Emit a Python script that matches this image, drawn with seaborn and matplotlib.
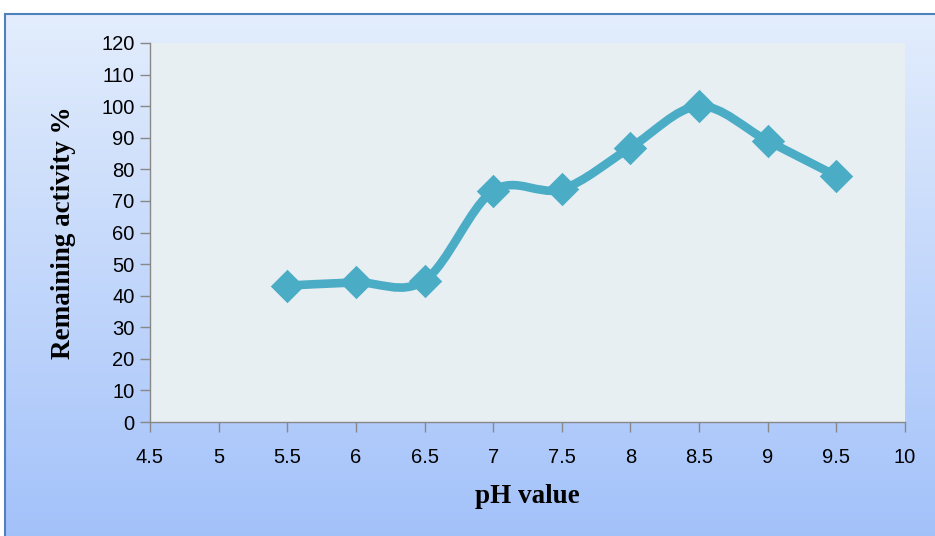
import numpy as np
import matplotlib
matplotlib.use("Agg")
import matplotlib.pyplot as plt
from matplotlib.path import Path
from matplotlib.patches import PathPatch
import seaborn as sns
import pandas as pd

sns.set_theme(style="white")
plt.rcParams['font.family'] = ['Liberation Sans Narrow', 'Liberation Sans', 'DejaVu Sans']

# data
ph = [5.5, 6, 6.5, 7, 7.5, 8, 8.5, 9, 9.5]
activity = [43.2, 44.2, 44.8, 73.2, 73.7, 86.9, 100, 89, 77.9]
x_ticks = [4.5, 5, 5.5, 6, 6.5, 7, 7.5, 8, 8.5, 9, 9.5, 10]
y_ticks = list(range(0, 121, 10))

df = pd.DataFrame({'pH': ph, 'Activity': activity})
line_color = '#4BACC6'

fig = plt.figure(figsize=(9.35, 5.36), dpi=100)

# gradient chart frame
bg = fig.add_axes([5 / 935, 0, 1 - 5 / 935, (536 - 14) / 536])
grad = np.linspace(0, 1, 256).reshape(-1, 1)
top = np.array([0.89, 0.93, 0.99])
bot = np.array([0.64, 0.76, 0.98])
img = top[None, None, :] * (1 - grad[..., None]) + bot[None, None, :] * grad[..., None]
bg.imshow(img, aspect='auto', extent=[0, 1, 0, 1])
bg.set_xlim(0, 1)
bg.set_ylim(0, 1)
bg.set_xticks([])
bg.set_yticks([])
for side in ['top', 'left']:
    bg.spines[side].set_color('#4F81BD')
    bg.spines[side].set_linewidth(1.5)
for side in ['right', 'bottom']:
    bg.spines[side].set_visible(False)

ax = fig.add_axes([150 / 935, (536 - 422) / 536, (905 - 150) / 935, (422 - 43) / 536])
ax.set_facecolor('#E8EFF3')

# smoothed curve (Catmull-Rom style Bezier through the data points)
pts = np.column_stack([ph, activity])
verts = [tuple(pts[0])]
codes = [Path.MOVETO]
t = 1 / 6
for i in range(len(pts) - 1):
    p0 = pts[i - 1] if i > 0 else pts[i]
    p1 = pts[i]
    p2 = pts[i + 1]
    p3 = pts[i + 2] if i + 2 < len(pts) else pts[i + 1]
    c1 = p1 + (p2 - p0) * t
    c2 = p2 - (p3 - p1) * t
    verts += [tuple(c1), tuple(c2), tuple(p2)]
    codes += [Path.CURVE4] * 3
ax.add_patch(PathPatch(Path(verts, codes), facecolor='none', edgecolor=line_color,
                       lw=6.2, capstyle='round', joinstyle='round', zorder=3))

sns.scatterplot(data=df, x='pH', y='Activity', marker='D', s=290, color=line_color,
                edgecolor=line_color, linewidth=0, ax=ax, zorder=4)

ax.set_xlim(4.5, 10)
ax.set_ylim(0, 120)
ax.set_xticks(x_ticks)
ax.set_xticklabels([f'{v:g}' for v in x_ticks])
ax.set_yticks(y_ticks)
ax.tick_params(axis='both', labelsize=14.5, colors='#888888', labelcolor='black',
               direction='out', length=7, width=1, bottom=True, left=True)
ax.tick_params(axis='x', pad=12)
ax.tick_params(axis='y', pad=4)
for side in ['top', 'right']:
    ax.spines[side].set_visible(False)
for side in ['left', 'bottom']:
    ax.spines[side].set_color('#888888')
    ax.spines[side].set_linewidth(1)
ax.grid(False)

ax.set_xlabel('pH value', fontsize=19.5, fontweight='bold', color='black',
              family=['Liberation Serif'], labelpad=12)
ax.set_ylabel('Remaining activity %', fontsize=19.5, fontweight='bold', color='black',
              family=['Liberation Serif'], labelpad=18)

fig.savefig('out.png', dpi=100)
